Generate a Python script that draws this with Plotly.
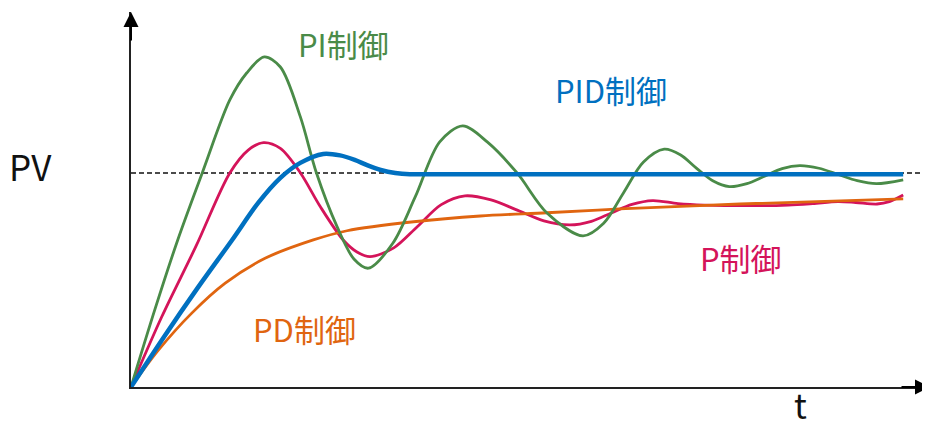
import plotly.graph_objects as go

# ---- data (time in arbitrary units, PV normalised so setpoint = 1) ----
setpoint = 1.0

t_pi = [0, 0.31, 0.61, 0.93, 1.29, 1.51, 1.74, 1.95, 2.21, 2.42, 2.69, 2.91, 3.10, 3.42, 3.71,
        4.03, 4.33, 4.65, 5.04, 5.43, 5.90, 6.17, 6.43, 6.69, 6.96, 7.17, 7.38, 7.60, 7.81,
        8.04, 8.27, 8.50, 8.73, 8.98, 9.23, 9.48, 9.73, 10.08]
pv_pi = [0, 0.36, 0.687, 1.0, 1.341, 1.467, 1.542, 1.495, 1.263, 1.001, 0.749, 0.598, 0.555,
         0.673, 0.888, 1.145, 1.220, 1.145, 1.0, 0.813, 0.706, 0.765, 0.908, 1.051, 1.111,
         1.085, 1.023, 0.962, 0.936, 0.950, 0.985, 1.020, 1.034, 1.022, 0.993, 0.964, 0.950, 0.968]

t_p = [0, 0.40, 0.85, 1.29, 1.53, 1.73, 1.95, 2.21, 2.47, 2.77, 2.95, 3.12, 3.43, 3.74, 4.05,
       4.36, 4.70, 5.05, 5.39, 5.73, 6.01, 6.27, 6.54, 6.81, 7.14, 7.48, 8.13, 8.58, 8.90,
       9.23, 9.46, 9.74, 9.90, 10.08]
pv_p = [0, 0.327, 0.659, 1.0, 1.107, 1.142, 1.115, 1.001, 0.843, 0.687, 0.631, 0.609, 0.650,
        0.750, 0.852, 0.893, 0.874, 0.825, 0.776, 0.757, 0.774, 0.813, 0.853, 0.871, 0.857,
        0.850, 0.847, 0.850, 0.857, 0.866, 0.862, 0.855, 0.866, 0.897]

t_pid = [0, 0.43, 0.87, 1.32, 1.66, 1.95, 2.21, 2.51, 2.73, 2.92, 3.09, 3.26, 3.45, 3.64,
         4.03, 5.0, 6.0, 7.0, 8.0, 9.0, 10.08]
pv_pid = [0, 0.234, 0.463, 0.687, 0.860, 0.977, 1.047, 1.089, 1.082, 1.061, 1.035, 1.014,
          1.0, 0.994, 0.994, 0.994, 0.994, 0.994, 0.994, 0.994, 0.994]

t_pd = [0, 0.36, 0.79, 1.23, 1.75, 2.38, 2.82, 3.69, 4.56, 5.43, 6.38, 7.95, 10.08]
pv_pd = [0, 0.173, 0.344, 0.485, 0.601, 0.687, 0.730, 0.772, 0.799, 0.814, 0.832, 0.855, 0.879]

labels = ["PI制御", "PID制御", "P制御", "PD制御"]
label_t = [2.77, 6.27, 7.96, 2.26]
label_pv = [1.603, 1.388, 0.603, 0.271]

x_max = 10.43
y_max = 1.752

C_PI = "#4A8B48"
C_P = "#D4145A"
C_PID = "#0070C0"
C_PD = "#E06510"
FONT = "Noto Sans CJK JP"

fig = go.Figure()

fig.add_trace(go.Scatter(x=[0, x_max], y=[setpoint, setpoint], mode="lines",
                         line=dict(color="#111111", width=1.4, dash="5px,3px"),
                         hoverinfo="skip", showlegend=False))
fig.add_trace(go.Scatter(x=t_p, y=pv_p, mode="lines",
                         line=dict(color=C_P, width=2.8, shape="spline", smoothing=0.9),
                         showlegend=False))
fig.add_trace(go.Scatter(x=t_pd, y=pv_pd, mode="lines",
                         line=dict(color=C_PD, width=2.8, shape="spline", smoothing=0.9),
                         showlegend=False))
fig.add_trace(go.Scatter(x=t_pi, y=pv_pi, mode="lines",
                         line=dict(color=C_PI, width=2.8, shape="spline", smoothing=0.9),
                         showlegend=False))
fig.add_trace(go.Scatter(x=t_pid, y=pv_pid, mode="lines",
                         line=dict(color=C_PID, width=4.5, shape="spline", smoothing=0.9),
                         showlegend=False))

annotations = []
for txt, tx, ty, col in zip(labels, label_t, label_pv, [C_PI, C_PID, C_P, C_PD]):
    annotations.append(dict(x=tx, y=ty, xref="x", yref="y", text=txt, showarrow=False,
                            xanchor="center", yanchor="middle",
                            font=dict(family=FONT, size=31, color=col)))

annotations.append(dict(x=-0.1255, y=0.59, xref="paper", yref="paper", text="PV",
                        showarrow=False, xanchor="center", yanchor="middle",
                        font=dict(family=FONT, size=35, color="#111111")))
annotations.append(dict(x=0.838, y=-0.117, xref="paper", yref="paper", text="t",
                        showarrow=False, xanchor="center", yanchor="bottom",
                        font=dict(family=FONT, size=34, color="#111111")))

# axis arrowheads
annotations.append(dict(x=0, y=y_max, xref="x", yref="y", ax=0, ay=30, text="",
                        showarrow=True, arrowhead=2, arrowsize=1.5, arrowwidth=2,
                        arrowcolor="#000000", standoff=0))
annotations.append(dict(x=x_max, y=0, xref="x", yref="y", ax=-30, ay=0, text="",
                        showarrow=True, arrowhead=2, arrowsize=1.5, arrowwidth=2,
                        arrowcolor="#000000", standoff=0))

# page body has an 8px margin, so the figure is offset by 8px and sized to fit
fig.update_layout(
    width=922, height=423,
    margin=dict(l=123, r=0, t=4, b=44, pad=0),
    paper_bgcolor="white", plot_bgcolor="white",
    showlegend=False,
    annotations=annotations,
    xaxis=dict(range=[0, x_max], showline=True, linecolor="#222222", linewidth=2,
               showgrid=False, zeroline=False, showticklabels=False, ticks=""),
    yaxis=dict(range=[0, y_max], showline=True, linecolor="#222222", linewidth=2,
               showgrid=False, zeroline=False, showticklabels=False, ticks=""),
)

fig.write_html("out.html")
